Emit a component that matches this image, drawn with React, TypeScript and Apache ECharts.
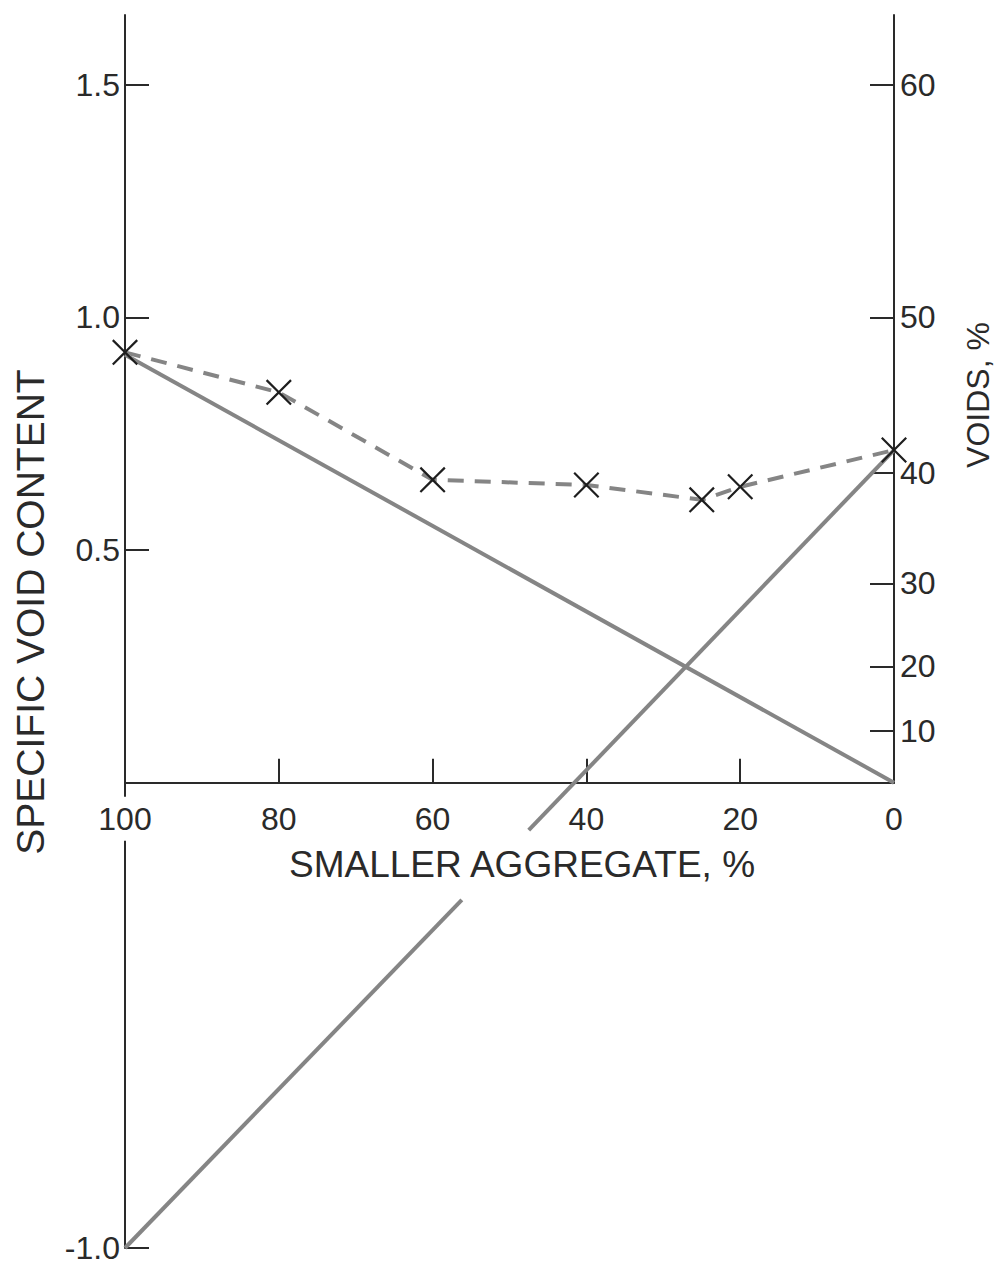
import React, { useEffect, useRef } from "react";
import * as echarts from "echarts";

// Smaller aggregate, % (x)
const measuredPct = [100, 80, 60, 40, 25, 20, 0];
// Measured specific void content (dashed line with crosses)
const measuredVoid = [0.925, 0.839, 0.651, 0.64, 0.608, 0.636, 0.715];
// Straight theoretical line, descending
const fineLinePct = [100, 0];
const fineLineVoid = [0.92, 0.0];
// Straight theoretical line, ascending (drawn in two pieces around the axis title)
const coarseLowPct = [100, 56.2];
const coarseLowVoid = [-1.0, -0.252];
const coarseHighPct = [47.5, 0];
const coarseHighVoid = [-0.102, 0.715];

const leftTicks = [-1.0, 0.5, 1.0, 1.5];
const xTickMarks = [20, 40, 60, 80];
const voidTicks = [10, 20, 30, 40, 50, 60];

const FONT = "Liberation Sans";
const INK = "#2a2a2a";
const LINE = "#858585";

const pairs = (xs: number[], ys: number[]) => xs.map((x, i) => [x, ys[i]]);

export default function App() {
  const ref = useRef<HTMLDivElement>(null);
  useEffect(() => {
    if (!ref.current) return;
    const chart = echarts.init(ref.current, undefined, { renderer: "svg" });
    const topPx = 15;
    const bottomPx = 18;
    const yMin = -1.0;
    const yMax = 1.65;
    const h = 1266 - topPx - bottomPx;
    const perUnit = h / (yMax - yMin);
    const upperH = perUnit * yMax;
    const zeroY = topPx + upperH;
    const crossPath =
      "path://M0,0.6L0.6,0L5,4.4L9.4,0L10,0.6L5.6,5L10,9.4L9.4,10L5,5.6L0.6,10L0,9.4L4.4,5Z";
    const voidTickVals = voidTicks.map((n) => n / (100 - n));
    const labelRich = { fontSize: 32, color: INK, fontFamily: FONT, padding: [6, 0, 6, 0] };
    chart.setOption({
      animation: false,
      backgroundColor: "#ffffff",
      grid: [
        { left: 125, right: 110, top: topPx, bottom: bottomPx, show: false, containLabel: false, outerBoundsMode: "none" },
        { left: 125, right: 110, top: topPx, height: upperH, show: false, containLabel: false, outerBoundsMode: "none" },
      ],
      xAxis: [
        {
          type: "value",
          gridIndex: 0,
          min: 0,
          max: 100,
          interval: 20,
          inverse: true,
          axisLine: { show: true, onZero: true, lineStyle: { color: INK, width: 2 } },
          axisTick: { show: true, inside: true, length: 24, customValues: xTickMarks, lineStyle: { color: INK, width: 2 } },
          axisLabel: { show: false },
          splitLine: { show: false },
        },
        {
          type: "value",
          gridIndex: 1,
          min: 0,
          max: 100,
          interval: 20,
          inverse: true,
          position: "bottom",
          z: 4,
          axisLine: { show: false, onZero: false },
          axisTick: { show: false },
          axisLabel: {
            show: true,
            margin: 14,
            fontSize: 32,
            color: INK,
            fontFamily: FONT,
            formatter: (v: number) => (v === 100 ? `{w|${v}}` : `{n|${v}}`),
            rich: {
              w: { ...labelRich, backgroundColor: "#ffffff" },
              n: { ...labelRich },
            },
          },
          splitLine: { show: false },
        },
      ],
      yAxis: [
        {
          type: "value",
          gridIndex: 0,
          min: yMin,
          max: yMax,
          position: "left",
          axisLine: { show: true, onZero: false, lineStyle: { color: INK, width: 2 } },
          axisTick: { show: true, inside: true, length: 24, customValues: leftTicks, lineStyle: { color: INK, width: 2 } },
          axisLabel: {
            customValues: leftTicks,
            margin: 5,
            fontSize: 32,
            color: INK,
            fontFamily: FONT,
            formatter: (v: number) => v.toFixed(1),
          },
          splitLine: { show: false },
        },
        {
          type: "value",
          gridIndex: 1,
          min: 0,
          max: yMax,
          position: "right",
          axisLine: { show: true, onZero: false, lineStyle: { color: INK, width: 2 } },
          axisTick: {
            show: true,
            inside: true,
            length: 24,
            customValues: voidTickVals,
            lineStyle: { color: INK, width: 2 },
          },
          axisLabel: {
            customValues: voidTickVals,
            margin: 6,
            fontSize: 32,
            color: INK,
            fontFamily: FONT,
            formatter: (v: number) => String(Math.round((100 * v) / (1 + v))),
          },
          splitLine: { show: false },
        },
      ],
      graphic: [
        {
          type: "text",
          x: 522,
          y: zeroY + 82,
          style: {
            text: "SMALLER AGGREGATE, %",
            fontSize: 37,
            fontFamily: FONT,
            fill: INK,
            align: "center",
            verticalAlign: "middle",
          },
        },
        {
          type: "text",
          x: 30,
          y: 612,
          rotation: Math.PI / 2,
          style: {
            text: "SPECIFIC VOID CONTENT",
            fontSize: 39,
            fontFamily: FONT,
            fill: INK,
            align: "center",
            verticalAlign: "middle",
          },
        },
        {
          type: "text",
          x: 978,
          y: 395,
          rotation: Math.PI / 2,
          style: {
            text: "VOIDS, %",
            fontSize: 32,
            fontFamily: FONT,
            fill: INK,
            align: "center",
            verticalAlign: "middle",
          },
        },
      ],
      series: [
        {
          type: "line",
          xAxisIndex: 0,
          yAxisIndex: 0,
          data: pairs(fineLinePct, fineLineVoid),
          symbol: "none",
          lineStyle: { color: LINE, width: 4 },
          z: 2,
        },
        {
          type: "line",
          xAxisIndex: 0,
          yAxisIndex: 0,
          data: pairs(coarseLowPct, coarseLowVoid),
          symbol: "none",
          lineStyle: { color: LINE, width: 4 },
          z: 2,
        },
        {
          type: "line",
          xAxisIndex: 0,
          yAxisIndex: 0,
          data: pairs(coarseHighPct, coarseHighVoid),
          symbol: "none",
          lineStyle: { color: LINE, width: 4 },
          z: 2,
        },
        {
          type: "line",
          xAxisIndex: 0,
          yAxisIndex: 0,
          data: pairs(measuredPct, measuredVoid),
          symbol: crossPath,
          symbolSize: 26,
          itemStyle: { color: "#1e1e1e" },
          lineStyle: { color: LINE, width: 4, type: [16, 11] },
          z: 3,
        },
      ],
    });
    return () => chart.dispose();
  }, []);
  return (
    <div
      ref={ref}
      style={{ position: "absolute", left: 0, top: 0, width: 1004, height: 1266, background: "#fff" }}
    />
  );
}
